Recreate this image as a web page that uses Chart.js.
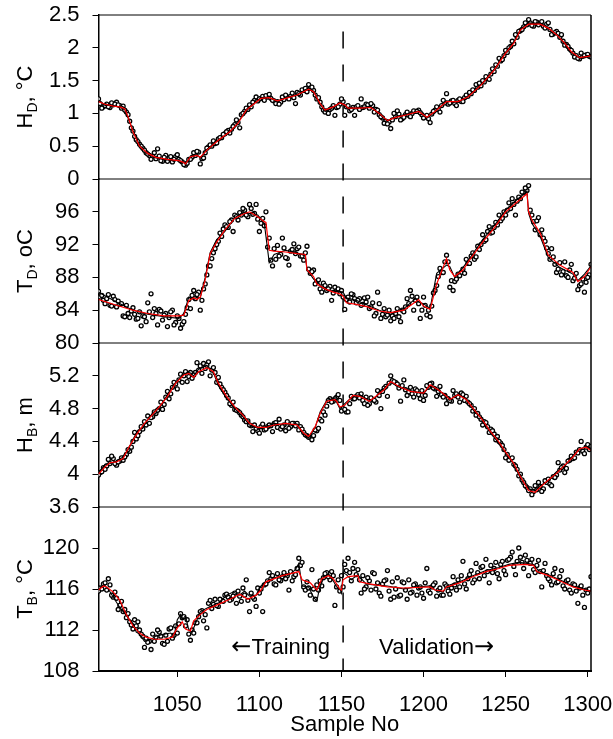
<!DOCTYPE html>
<html>
<head>
<meta charset="utf-8">
<script src="https://cdn.jsdelivr.net/npm/chart.js@4.4.1/dist/chart.umd.min.js"></script>
<style>
html,body{margin:0;padding:0;background:#fff;}
canvas{display:block;}
</style>
</head>
<body>
<canvas id="chart" width="613" height="739"></canvas>
<script>
// x axis
const xTicks = [1050, 1100, 1150, 1200, 1250, 1300];
const splitSample = 1151;
const evenSamples = Array.from({length: 151}, (_, i) => 1002 + 2 * i);
const oddSamples = Array.from({length: 150}, (_, i) => 1003 + 2 * i);

// H_D panel
const hdTicks = [0, 0.5, 1, 1.5, 2, 2.5];
const hdLineX = [1002,1006,1011,1015,1018,1020,1023,1027,1032,1037,1044,1051,1054,1055,1058,1062,1064,1068,1075,1082,1087,1092,1097,1101,1106,1109,1111,1116,1123,1130,1133,1137,1140,1145,1149,1152,1154,1161,1168,1173,1178,1183,1190,1197,1202,1207,1214,1221,1227,1235,1243,1250,1255,1259,1264,1271,1276,1281,1286,1290,1295,1300,1302];
const hdRed = [1.18,1.14,1.11,1.10,1.07,0.95,0.72,0.50,0.39,0.33,0.30,0.28,0.25,0.23,0.34,0.36,0.33,0.44,0.59,0.72,0.85,1.05,1.15,1.23,1.24,1.21,1.19,1.23,1.28,1.37,1.33,1.15,1.05,1.10,1.16,1.13,1.08,1.08,1.09,1.00,0.89,0.94,0.98,1.03,0.94,1.03,1.18,1.18,1.25,1.43,1.66,1.92,2.07,2.27,2.36,2.36,2.30,2.20,2.07,1.94,1.85,1.87,1.88];
const hdBlack = [1.20,1.12,1.12,1.09,1.06,0.93,0.74,0.52,0.38,0.32,0.29,0.28,0.26,0.22,0.33,0.37,0.32,0.45,0.60,0.71,0.86,1.06,1.16,1.24,1.25,1.20,1.18,1.24,1.29,1.39,1.34,1.14,1.03,1.09,1.17,1.12,1.07,1.09,1.10,0.99,0.88,0.95,0.99,1.04,0.93,1.02,1.19,1.17,1.26,1.44,1.67,1.93,2.09,2.28,2.38,2.37,2.29,2.21,2.06,1.93,1.84,1.88,1.88];
const hdPtsEven = [1.22,1.08,1.12,1.10,1.16,1.14,1.13,1.08,1.05,0.98,
  0.78,0.65,0.57,0.50,0.44,0.38,0.30,0.40,0.46,0.28,
  0.33,0.27,0.34,0.30,0.37,0.28,0.22,0.24,0.30,0.40,
  0.42,0.23,0.32,0.47,0.52,0.58,0.55,0.63,0.68,0.72,
  0.70,0.80,0.90,0.78,1.00,1.08,1.13,1.17,1.25,1.22,
  1.26,1.27,1.29,1.20,1.15,1.14,1.25,1.28,1.22,1.31,
  1.15,1.30,1.36,1.38,1.44,1.40,1.28,1.24,1.10,1.02,
  1.00,1.08,0.97,1.10,1.22,0.97,1.12,1.06,0.97,1.12,
  1.22,1.10,1.13,1.15,1.02,1.05,0.95,0.85,0.84,0.77,
  1.00,1.04,0.90,0.94,1.02,0.95,1.04,1.03,1.01,0.93,
  0.97,0.86,1.03,1.10,1.02,1.20,1.30,1.16,1.20,1.12,
  1.22,1.18,1.28,1.32,1.36,1.44,1.46,1.50,1.56,1.52,
  1.68,1.74,1.84,1.82,1.96,2.00,2.10,2.20,2.25,2.28,
  2.38,2.43,2.34,2.40,2.35,2.40,2.30,2.38,2.20,2.23,
  2.22,2.20,2.04,2.02,1.96,1.86,1.84,1.92,1.88,1.90,
  1.86];
const hdPtsOdd = [1.15,1.10,1.14,1.09,1.13,1.17,1.12,1.11,1.02,0.88,
  0.73,0.60,0.53,0.47,0.40,0.36,0.35,0.31,0.35,0.27,
  0.36,0.32,0.26,0.34,0.30,0.26,0.21,0.30,0.33,0.36,
  0.41,0.31,0.40,0.49,0.50,0.54,0.61,0.63,0.69,0.74,
  0.76,0.83,0.86,0.98,1.03,1.06,1.10,1.20,1.19,1.23,
  1.20,1.25,1.23,1.19,1.18,1.17,1.21,1.25,1.26,1.24,
  1.32,1.28,1.35,1.33,1.38,1.35,1.22,1.17,1.05,1.04,
  1.06,1.12,1.09,1.14,1.18,1.10,1.04,1.09,1.10,1.06,
  1.09,1.14,1.08,1.12,1.06,0.98,0.93,0.88,0.87,0.90,
  0.95,0.99,0.92,0.98,0.97,1.00,1.03,1.05,0.98,0.95,
  0.92,0.99,1.05,1.06,1.12,1.16,1.14,1.19,1.15,1.20,
  1.18,1.24,1.26,1.30,1.35,1.40,1.42,1.48,1.53,1.60,
  1.64,1.72,1.80,1.88,1.93,2.02,2.06,2.16,2.26,2.32,
  2.35,2.38,2.33,2.39,2.37,2.33,2.36,2.28,2.21,2.25,
  2.16,2.10,2.05,1.98,1.92,1.88,1.83,1.87,1.89,1.87];

// T_D panel
const tdTicks = [80, 84, 88, 92, 96];
const tdLineX = [1002,1013,1023,1032,1042,1051,1054,1057,1060,1062,1064,1067,1070,1074,1079,1085,1090,1094,1099,1103,1104,1106,1109,1116,1123,1128,1129,1133,1135,1140,1145,1149,1151,1153,1159,1166,1173,1180,1188,1195,1197,1200,1204,1208,1214,1216,1219,1224,1228,1236,1243,1250,1257,1263,1264,1266,1271,1276,1283,1291,1294,1298,1302];
const tdRed = [85.3,84.6,84.0,83.6,83.3,83.3,83.4,85.2,85.5,85.3,85.6,87.7,90.9,92.3,93.8,95.2,95.7,96.0,95.4,94.8,94.7,91.3,91.2,91.1,90.9,90.8,88.9,88.1,87.2,86.6,86.2,86.0,85.7,84.9,84.7,84.4,83.9,83.7,84.0,85.0,85.3,84.5,84.1,87.2,90.3,88.9,88.1,88.9,90.1,92.3,94.0,96.0,97.2,98.2,96.0,95.0,93.4,90.7,89.5,88.6,87.5,88.1,89.3];
const tdBlack = [86.2,85.0,84.0,83.5,83.2,83.0,83.6,85.6,85.3,85.6,85.5,88.0,91.0,92.6,93.6,95.3,95.9,95.8,95.6,94.6,93.0,89.8,90.8,91.3,91.0,90.6,89.0,87.8,87.5,86.5,86.4,86.3,86.2,85.5,85.2,84.6,84.0,83.5,84.2,85.4,85.0,84.8,84.2,88.5,89.5,89.3,88.0,89.2,90.3,92.6,94.3,96.2,97.5,98.5,95.8,94.6,93.0,90.4,89.2,88.4,87.6,88.4,89.4];
const tdPtsEven = [86.3,85.8,84.8,85.9,84.5,85.3,85.1,84.8,83.2,83.6,
  83.9,83.5,83.0,82.1,83.2,84.9,86.0,84.2,82.2,83.9,
  83.4,82.0,83.8,82.2,83.3,81.8,82.6,84.3,84.2,86.4,
  85.9,84.0,86.6,88.3,89.4,91.0,92.0,93.4,93.9,94.2,
  94.8,93.6,95.4,95.9,96.4,95.6,96.9,95.7,96.9,93.6,
  95.2,96.0,92.8,89.4,90.2,90.6,92.8,90.4,89.5,91.4,
  90.9,91.7,90.6,91.0,89.0,88.7,87.2,87.7,86.2,87.0,
  86.6,85.2,86.8,86.6,86.4,84.1,85.6,86.0,85.4,85.2,
  84.6,85.5,85.6,84.4,83.3,86.2,83.0,84.2,83.4,82.7,
  83.0,84.2,82.6,83.8,85.4,86.4,84.0,85.6,83.0,85.6,
  83.4,83.2,86.1,87.0,89.1,88.6,90.7,86.8,86.4,87.8,
  88.2,89.0,90.2,89.7,91.0,90.5,91.4,93.2,92.6,94.2,
  93.5,94.7,95.6,95.2,95.6,97.1,97.6,95.6,97.8,98.4,
  98.9,99.2,95.6,93.8,95.3,93.8,92.4,90.9,91.5,89.6,
  89.0,88.3,89.9,88.0,89.6,87.9,86.5,87.2,86.2,88.0,
  89.6];
const tdPtsOdd = [85.6,85.2,85.4,84.6,85.7,84.4,84.7,83.3,84.6,83.1,
  84.3,82.9,83.8,83.3,82.6,83.8,83.1,83.6,84.1,82.8,
  83.6,83.1,84.0,82.5,83.0,82.3,83.5,85.3,85.8,85.4,
  86.2,85.2,87.2,89.4,90.3,91.5,92.4,93.0,94.4,94.1,
  95.0,95.6,95.0,95.6,96.2,95.4,96.4,95.8,95.1,94.6,
  94.3,91.7,90.1,91.5,91.9,90.8,91.6,90.3,91.2,92.1,
  91.5,90.6,90.1,91.8,88.5,88.9,87.5,86.6,87.3,86.4,
  86.9,86.1,86.5,86.0,85.6,85.3,85.0,85.9,84.9,85.4,
  84.7,85.0,84.2,84.9,83.6,84.8,83.5,83.2,84.0,83.3,
  83.6,83.2,84.0,84.4,84.8,85.7,85.2,84.8,84.0,84.6,
  84.0,84.5,86.4,88.1,88.6,89.9,89.9,87.6,87.5,88.4,
  88.6,88.5,89.7,90.6,90.2,91.8,92.0,92.4,93.6,93.4,
  94.1,94.4,94.9,96.0,96.2,96.4,96.9,97.3,97.6,98.3,
  98.6,96.2,94.8,94.9,93.2,92.8,91.6,90.2,90.5,88.6,
  89.8,88.7,88.2,88.9,87.6,88.5,87.0,87.8,87.4,88.3];

// H_B panel
const hbTicks = [3.6, 4, 4.4, 4.8, 5.2];
const hbLineX = [1002,1006,1009,1013,1017,1020,1025,1030,1035,1039,1044,1049,1054,1057,1060,1063,1068,1072,1075,1080,1085,1090,1094,1099,1104,1109,1116,1123,1127,1130,1134,1137,1141,1146,1147,1149,1152,1157,1161,1167,1171,1176,1180,1185,1192,1200,1204,1209,1214,1216,1221,1226,1231,1236,1240,1245,1250,1255,1259,1264,1268,1271,1276,1281,1286,1291,1295,1299,1302];
const hbRed = [4.00,4.09,4.14,4.15,4.19,4.31,4.48,4.62,4.73,4.82,4.95,5.11,5.21,5.23,5.18,5.25,5.30,5.25,5.11,4.95,4.82,4.72,4.62,4.57,4.57,4.60,4.62,4.60,4.50,4.46,4.58,4.74,4.89,4.91,4.89,4.82,4.84,4.96,4.95,4.89,4.95,5.03,5.13,5.07,5.01,4.99,5.09,5.03,4.95,4.91,4.97,4.91,4.78,4.66,4.54,4.42,4.27,4.13,3.97,3.80,3.78,3.84,3.93,4.01,4.11,4.21,4.31,4.33,4.29];
const hbBlack = [4.01,4.12,4.13,4.16,4.21,4.30,4.50,4.60,4.75,4.80,4.97,5.12,5.22,5.25,5.20,5.28,5.33,5.24,5.08,4.93,4.80,4.70,4.60,4.56,4.58,4.62,4.60,4.61,4.49,4.44,4.57,4.76,4.90,4.93,4.88,4.80,4.86,4.95,4.97,4.90,4.94,5.05,5.12,5.06,5.02,4.98,5.08,5.02,4.96,4.90,4.98,4.92,4.76,4.67,4.52,4.40,4.26,4.12,3.95,3.82,3.80,3.86,3.92,4.03,4.10,4.23,4.30,4.34,4.30];
const hbPtsEven = [3.99,4.03,4.06,4.18,4.22,4.13,4.15,4.20,4.21,4.30,
  4.33,4.51,4.47,4.58,4.64,4.71,4.69,4.76,4.78,4.88,
  4.85,5.01,4.98,5.12,5.04,5.22,5.20,5.13,5.24,5.21,
  5.36,5.32,5.35,5.33,5.20,5.30,5.12,5.10,5.03,4.96,
  4.86,4.88,4.78,4.75,4.70,4.64,4.60,4.52,4.56,4.50,
  4.61,4.55,4.60,4.52,4.63,4.67,4.58,4.53,4.56,4.62,
  4.59,4.54,4.55,4.48,4.45,4.42,4.54,4.56,4.65,4.72,
  4.90,4.88,4.92,4.97,4.77,4.79,4.76,4.95,4.92,4.97,
  4.98,4.86,4.84,4.93,4.90,5.02,4.80,5.05,4.95,5.20,
  5.13,5.10,4.89,5.15,4.96,5.06,4.94,5.02,4.92,4.90,
  5.08,5.10,5.05,4.95,5.07,4.94,4.86,4.90,5.02,4.98,
  4.88,4.97,4.95,4.86,4.77,4.72,4.70,4.60,4.63,4.51,
  4.53,4.42,4.40,4.35,4.20,4.17,4.20,4.10,3.98,3.93,
  3.86,3.80,3.75,3.86,3.90,3.79,3.92,3.94,3.86,3.96,
  4.14,4.08,4.02,4.16,4.22,4.20,4.26,4.40,4.25,4.36,
  4.34];
const hbPtsOdd = [4.02,4.08,4.10,4.13,4.19,4.11,4.16,4.17,4.24,4.28,
  4.40,4.43,4.52,4.55,4.60,4.62,4.70,4.74,4.80,4.79,
  4.94,4.92,5.06,5.10,5.15,5.12,5.25,5.19,5.17,5.24,
  5.27,5.23,5.29,5.37,5.27,5.24,5.18,5.06,5.00,4.93,
  4.84,4.79,4.77,4.72,4.66,4.65,4.59,4.60,4.53,4.58,
  4.54,4.58,4.59,4.62,4.57,4.55,4.60,4.64,4.58,4.62,
  4.62,4.58,4.51,4.47,4.45,4.47,4.53,4.67,4.76,4.83,
  4.92,4.89,4.94,4.90,4.80,4.76,4.86,4.92,4.95,4.93,
  4.90,4.94,4.86,4.91,4.88,4.96,5.01,5.07,5.11,5.14,
  5.12,5.05,5.08,5.03,5.00,4.98,5.04,4.97,5.02,4.96,
  5.06,5.11,5.04,5.01,4.97,4.96,4.92,4.89,4.96,4.94,
  4.99,4.90,4.88,4.84,4.80,4.74,4.67,4.64,4.58,4.55,
  4.49,4.46,4.38,4.30,4.24,4.19,4.12,4.06,4.00,3.90,
  3.84,3.82,3.79,3.81,3.85,3.82,3.90,3.88,3.97,3.99,
  4.05,4.10,4.07,4.17,4.19,4.27,4.30,4.28,4.33,4.30];

// T_B panel
const tbTicks = [108, 112, 116, 120];
const tbRedX = [1002,1005,1007,1011,1015,1019,1023,1027,1031,1036,1042,1047,1050,1053,1055,1058,1060,1064,1068,1075,1082,1088,1093,1098,1101,1104,1114,1119,1124,1126,1131,1135,1138,1142,1145,1149,1150,1151,1154,1160,1161,1167,1178,1188,1204,1207,1212,1214,1222,1230,1238,1246,1252,1262,1267,1269,1276,1283,1291,1298,1302];
const tbRed = [115.9,116.3,116.2,115.7,114.9,113.5,112.4,111.7,111.3,111.1,111.1,111.3,112.2,112.8,112.1,111.9,112.9,113.5,114.0,114.5,115.0,115.5,115.0,115.4,115.9,116.7,117.3,117.5,117.7,116.9,116.6,115.9,117.0,117.3,117.0,116.0,115.9,116.9,117.2,117.3,116.7,116.5,116.2,116.1,116.2,115.9,115.8,116.2,116.6,117.2,117.7,118.0,118.3,118.4,118.3,117.7,117.3,116.8,116.2,115.9,115.8];
const tbBlackX = [1002,1005,1008,1011,1015,1018,1021,1023,1025,1027,1030,1033,1037,1042,1046,1048,1050,1052,1053,1055,1057,1059,1062,1064,1070,1076,1080,1084,1088,1091,1094,1098,1101,1106,1111,1117,1120,1122,1124,1126,1130,1133,1135,1136,1139,1142,1145,1147,1149,1150,1151,1153,1156,1160,1162,1165,1170,1178,1188,1196,1204,1207,1212,1214,1222,1230,1238,1246,1252,1258,1263,1267,1270,1276,1283,1291,1298,1302];
const tbBlack = [115.9,116.4,116.0,115.2,114.2,113.6,113.0,112.6,111.8,111.6,110.9,111.0,111.4,111.6,111.7,111.4,113.0,113.5,113.0,113.4,112.0,111.8,113.0,113.8,114.3,114.7,115.4,115.7,115.4,115.8,115.3,115.4,116.3,116.9,117.2,117.3,117.6,117.9,118.5,116.3,116.2,115.2,114.8,115.6,117.2,117.4,116.8,116.2,116.0,115.6,117.6,117.4,116.9,117.4,117.0,116.5,116.4,116.3,116.0,116.2,116.3,115.9,115.7,116.3,116.7,117.3,117.8,118.1,118.4,118.6,118.5,118.4,117.8,117.4,116.9,116.3,116.0,115.8];
const tbPtsEven = [115.8,116.0,116.6,117.0,115.4,115.7,114.0,114.8,114.0,113.6,
  112.5,113.0,112.8,111.6,110.3,110.8,110.1,110.9,112.0,111.4,
  110.6,110.9,112.2,111.5,111.7,113.6,113.3,113.0,111.0,111.7,
  112.7,113.8,112.9,112.2,114.9,114.5,114.4,115.0,114.8,115.5,
  114.9,115.3,114.6,115.3,116.1,116.9,113.8,115.2,114.3,115.6,
  113.8,116.5,117.6,117.3,116.4,116.9,117.2,117.0,115.9,116.8,
  117.4,119.0,118.6,115.9,116.1,117.9,115.0,115.9,116.3,117.5,
  117.2,117.7,114.4,116.9,117.3,118.4,119.0,116.8,118.6,117.9,
  115.6,116.0,117.1,115.9,117.5,116.6,115.3,116.8,117.8,115.0,
  115.2,117.1,115.4,116.6,115.0,115.6,116.4,115.4,116.2,115.1,
  118.0,115.6,116.4,115.3,116.1,115.4,116.3,115.5,117.2,115.9,
  116.2,118.7,116.0,117.4,116.6,118.5,117.0,118.2,118.9,116.6,
  117.6,118.6,117.0,118.7,117.4,118.9,119.6,117.4,120.0,118.6,
  119.3,117.3,118.9,117.6,118.8,116.2,118.5,117.0,116.4,118.0,
  116.7,117.8,116.0,116.9,115.6,116.4,114.6,116.3,114.2,115.6,
  117.2];
const tbPtsOdd = [116.1,116.5,115.9,116.4,115.2,115.1,114.4,113.8,113.2,112.8,
  112.1,112.4,112.0,111.4,111.2,110.9,111.6,111.3,111.8,110.7,
  111.5,112.1,111.2,112.4,112.6,113.2,112.4,111.6,112.0,112.7,
  113.3,113.9,113.5,114.6,114.1,115.0,114.3,114.9,115.4,115.2,
  115.0,115.6,115.8,114.8,115.4,114.9,115.6,115.0,116.1,116.0,
  116.4,116.8,117.0,116.5,117.5,116.8,117.6,117.3,117.7,117.2,
  118.0,118.3,116.2,116.7,115.4,116.0,116.4,116.8,117.1,117.6,
  116.9,117.3,116.2,115.8,116.2,117.8,117.6,118.0,117.4,116.9,
  117.3,116.2,116.8,117.6,116.0,115.6,116.5,116.9,115.8,116.7,
  116.0,115.3,116.7,115.9,116.9,115.7,116.5,116.1,115.6,116.6,
  115.8,116.2,116.6,115.9,115.4,116.5,115.8,116.1,116.4,116.9,
  117.3,116.5,117.0,117.8,116.9,117.6,118.1,117.3,117.7,118.3,
  118.0,117.5,118.4,117.8,118.8,119.1,118.2,118.7,119.1,118.0,
  118.8,118.5,117.9,118.3,117.7,117.8,117.3,116.8,117.5,116.6,
  117.2,116.3,116.8,115.9,116.5,115.8,116.1,115.4,115.9,116.0];

const FONT = "'Liberation Sans', Arial, Helvetica, sans-serif";
const ARROW_FONT = "'DejaVu Sans', sans-serif";
const FS = 22;

function pairs(xs, ys) {
    return xs.map((x, i) => ({x: x, y: ys[i]}));
}

// panels top to bottom
const panels = [
    {id: 'yHD', min: 0, max: 2.5, ticks: hdTicks, redX: hdLineX, red: hdRed, blackX: hdLineX, black: hdBlack, even: hdPtsEven, odd: hdPtsOdd,
     title: [['H', ''], ['D', 'sub'], [', \u00B0C', '']]},
    {id: 'yTD', min: 80, max: 100, ticks: tdTicks, redX: tdLineX, red: tdRed, blackX: tdLineX, black: tdBlack, even: tdPtsEven, odd: tdPtsOdd,
     title: [['T', ''], ['D', 'sub'], [', oC', '']]},
    {id: 'yHB', min: 3.6, max: 5.6, ticks: hbTicks, redX: hbLineX, red: hbRed, blackX: hbLineX, black: hbBlack, even: hbPtsEven, odd: hbPtsOdd,
     title: [['H', ''], ['B', 'sub'], [', m', '']]},
    {id: 'yTB', min: 108, max: 124, ticks: tbTicks, redX: tbRedX, red: tbRed, blackX: tbBlackX, black: tbBlack, even: tbPtsEven, odd: tbPtsOdd,
     title: [['T', ''], ['B', 'sub'], [', \u00B0C', '']]}
];

const pointStyle = {showLine: false, pointRadius: 2.0, pointBorderWidth: 1.3,
    pointBackgroundColor: '#fff', pointBorderColor: '#000', order: 3};

const datasets = [];
panels.forEach(p => {
    datasets.push({data: pairs(p.redX, p.red), borderColor: '#ff0000', borderWidth: 1.2, pointRadius: 0, yAxisID: p.id, order: 1});
    datasets.push({data: pairs(p.blackX, p.black), borderColor: '#000', borderWidth: 1.1, pointRadius: 0, yAxisID: p.id, order: 2});
    datasets.push(Object.assign({data: pairs(evenSamples, p.even), yAxisID: p.id}, pointStyle));
    datasets.push(Object.assign({data: pairs(oddSamples, p.odd), yAxisID: p.id}, pointStyle));
});

const scales = {
    x: {
        type: 'linear', position: 'bottom', min: 1002, max: 1302,
        afterBuildTicks: s => { s.ticks = xTicks.map(v => ({value: v})); },
        afterFit: s => { s.height = 68; s.paddingLeft = 0; s.paddingRight = 0; },
        ticks: {font: {family: FONT, size: FS}, color: '#000', padding: 15, maxRotation: 0, autoSkip: false,
            callback: v => String(v)},
        grid: {drawOnChartArea: false, tickLength: 6, color: '#000', lineWidth: 1},
        border: {display: true, color: '#000', width: 2},
        title: {display: true, text: 'Sample No', color: '#000', font: {family: FONT, size: FS}, padding: {top: 0, bottom: 1}}
    }
};
// stacked axes: last defined ends up on top
panels.slice().reverse().forEach(p => {
    scales[p.id] = {
        type: 'linear', position: 'left', stack: 'panels', stackWeight: 1, min: p.min, max: p.max,
        afterBuildTicks: s => { s.ticks = p.ticks.map(v => ({value: v})); },
        afterFit: s => { s.width = 98.5; s.paddingTop = 0; s.paddingBottom = 0; },
        ticks: {font: {family: FONT, size: FS}, color: '#000', padding: 13, autoSkip: false, callback: v => String(v)},
        grid: {drawOnChartArea: false, tickLength: 6, color: '#000', lineWidth: 1},
        border: {display: true, color: '#000', width: 1.5}
    };
});

// frame, split line, titles and notes
const decorPlugin = {
    id: 'decor',
    beforeDatasetsDraw(chart) {
        const ctx = chart.ctx;
        const xs = chart.scales.x.getPixelForValue(splitSample);
        ctx.save();
        ctx.strokeStyle = '#000';
        ctx.lineWidth = 1.5;
        ctx.setLineDash([17, 16]);
        ctx.beginPath();
        ctx.moveTo(xs, chart.scales.yHD.getPixelForValue(2.25));
        ctx.lineTo(xs, chart.scales.x.top);
        ctx.stroke();
        ctx.restore();
    },
    afterDraw(chart) {
        const ctx = chart.ctx;
        const a = chart.chartArea;
        ctx.save();
        ctx.strokeStyle = '#000';
        ctx.lineWidth = 1;
        panels.forEach(p => {
            const s = chart.scales[p.id];
            ctx.beginPath();
            ctx.moveTo(a.left, s.top);
            ctx.lineTo(a.right, s.top);
            ctx.stroke();
        });
        ctx.lineWidth = 1.5;
        ctx.beginPath();
        ctx.moveTo(a.right, a.top);
        ctx.lineTo(a.right, a.bottom);
        ctx.stroke();

        // axis titles with subscripts
        ctx.fillStyle = '#000';
        ctx.textBaseline = 'alphabetic';
        panels.forEach(p => {
            const s = chart.scales[p.id];
            const cy = (s.top + s.bottom) / 2;
            let total = 0;
            p.title.forEach(([t, kind]) => {
                ctx.font = (kind === 'sub' ? 14 : FS) + 'px ' + FONT;
                total += ctx.measureText(t).width;
            });
            ctx.save();
            ctx.translate(32, cy);
            ctx.rotate(-Math.PI / 2);
            let x = -total / 2;
            p.title.forEach(([t, kind]) => {
                ctx.font = (kind === 'sub' ? 14 : FS) + 'px ' + FONT;
                ctx.fillText(t, x, kind === 'sub' ? 5 : 0);
                x += ctx.measureText(t).width;
            });
            ctx.restore();
        });

        // training / validation notes
        const xs = chart.scales.x.getPixelForValue(splitSample);
        const yb = chart.scales.yTB.bottom - 17;
        ctx.textAlign = 'left';
        ctx.font = FS + 'px ' + FONT;
        const wTrain = ctx.measureText('Training').width;
        const wVal = ctx.measureText('Validation').width;
        ctx.fillText('Training', xs - 13 - wTrain, yb);
        ctx.fillText('Validation', xs + 36, yb);
        ctx.font = (FS + 2) + 'px ' + ARROW_FONT;
        const wArrow = ctx.measureText('\u2190').width;
        ctx.fillText('\u2190', xs - 13 - wTrain - wArrow, yb);
        ctx.fillText('\u2192', xs + 36 + wVal, yb);
        ctx.restore();
    }
};

new Chart(document.getElementById('chart'), {
    type: 'line',
    data: {datasets: datasets},
    options: {
        responsive: false,
        animation: false,
        events: [],
        layout: {padding: {top: 15, right: 22, left: 0, bottom: 0}},
        plugins: {legend: {display: false}, tooltip: {enabled: false}},
        scales: scales
    },
    plugins: [decorPlugin]
});
</script>
</body>
</html>
